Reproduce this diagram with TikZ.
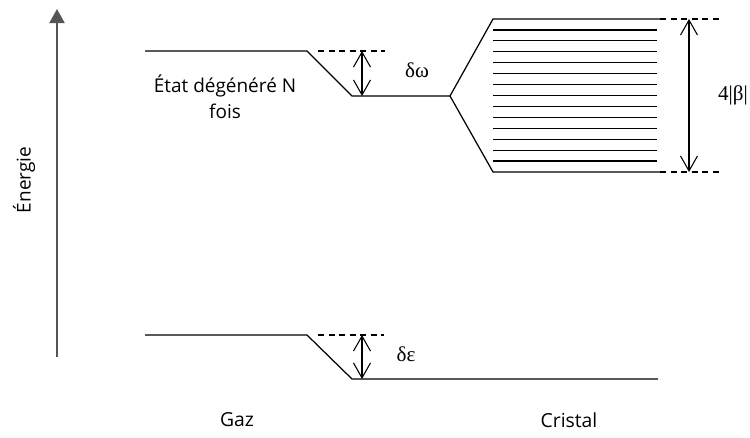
\documentclass[tikz,border=0pt]{standalone}
\usepackage{fontspec}
\setmainfont{Open Sans}
\newfontfamily\grk{Liberation Serif}
\usetikzlibrary{arrows.meta}
\usepackage{xcolor}
\definecolor{axisgray}{RGB}{85,85,85}

\begin{document}
\begin{tikzpicture}[
    x=0.02cm, y=-0.02cm,
    level/.style={line width=0.7pt},
    dashlevel/.style={line width=0.6pt, dash pattern=on 3.5pt off 2.5pt},
    gap/.style={{Straight Barb[length=0.3cm,width=0.34cm]}-{Straight Barb[length=0.3cm,width=0.34cm]},
                line width=0.6pt},
    axis/.style={-{Triangle[length=0.28cm,width=0.3cm]}, draw=axisgray, line width=1.1pt},
    lbl/.style={font=\fontsize{10.8}{14.7}\selectfont, align=center, inner sep=0pt},
    grklbl/.style={font=\grk\fontsize{12}{14}\selectfont, inner sep=0pt}
]

\useasboundingbox (0,0) rectangle (750,437);

\coordinate (axBot) at (57,357);
\coordinate (axTop) at (57,9);
\draw[axis] (axBot) -- (axTop);
\node[lbl, rotate=90] (energie) at (24,180) {Énergie};

\coordinate (gasHiL) at (145,51);
\coordinate (gasHiR) at (307,51);
\coordinate (crHiL) at (352,96);
\coordinate (split) at (450,96);
\draw[level] (gasHiL) -- (gasHiR) -- (crHiL) -- (split);

\coordinate (dwDashL) at (318,51);
\coordinate (dwDashR) at (385,51);
\draw[dashlevel] (dwDashL) -- (dwDashR);
\coordinate (dwTop) at (362,51);
\coordinate (dwBot) at (362,96);
\draw[gap] (dwTop) -- (dwBot);
\node[grklbl] (dw) at (417,70) {δω};

\node[lbl] (etat) at (225,97) {État dégénéré N\\fois};

\coordinate (bandTopL) at (493,19);
\coordinate (bandTopR) at (660,19);
\coordinate (bandBotL) at (493,172);
\coordinate (bandBotR) at (660,172);
\draw[level] (bandTopR) -- (bandTopL) -- (split) -- (bandBotL) -- (bandBotR);
\foreach \i in {1,...,13}
    \draw[level] (493,{19+\i*153/14}) -- (657,{19+\i*153/14});

\coordinate (bandTopDash) at (722,19);
\coordinate (bandBotDash) at (722,172);
\draw[dashlevel] (bandTopR) -- (bandTopDash);
\draw[dashlevel] (bandBotR) -- (bandBotDash);
\coordinate (betaTop) at (689,19);
\coordinate (betaBot) at (689,172);
\draw[gap] (betaTop) -- (betaBot);
\node[grklbl] (beta) at (733,95) {4|β|};

\coordinate (gasLoL) at (145,335);
\coordinate (gasLoR) at (307,335);
\coordinate (crLoL) at (352,379);
\coordinate (crLoR) at (658,379);
\draw[level] (gasLoL) -- (gasLoR) -- (crLoL) -- (crLoR);

\coordinate (deDashL) at (318,335);
\coordinate (deDashR) at (384,335);
\draw[dashlevel] (deDashL) -- (deDashR);
\coordinate (deTop) at (362,335);
\coordinate (deBot) at (362,379);
\draw[gap] (deTop) -- (deBot);
\node[grklbl] (de) at (406,354) {δε};

\node[lbl, font=\fontsize{11}{13}\selectfont] (gaz) at (237,420) {Gaz};
\node[lbl, font=\fontsize{11}{13}\selectfont] (cristal) at (569,420) {Cristal};

\end{tikzpicture}
\end{document}
